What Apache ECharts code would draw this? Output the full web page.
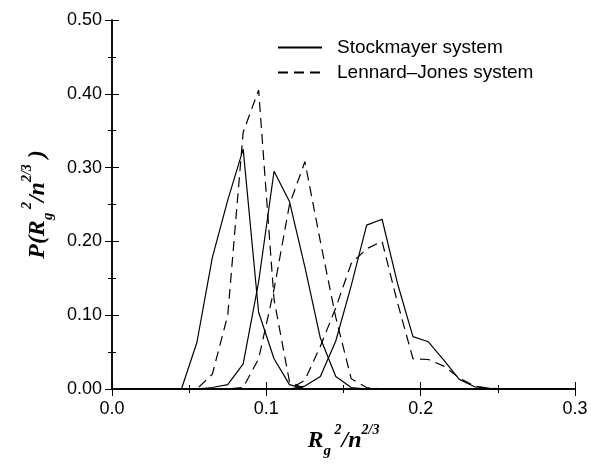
<!DOCTYPE html>
<html>
<head>
<meta charset="utf-8">
<script src="https://cdn.jsdelivr.net/npm/echarts@6/dist/echarts.min.js"></script>
<style>
html, body { margin: 0; padding: 0; background: #fff; }
#chart { width: 591px; height: 464px; }
</style>
</head>
<body>
<div id="chart"></div>
<script>
// histogram bin centres (Rg^2 / n^(2/3))
const bins = [0.005, 0.015, 0.025, 0.035, 0.045, 0.055, 0.065, 0.075, 0.085, 0.095,
  0.105, 0.115, 0.125, 0.135, 0.145, 0.155, 0.165, 0.175, 0.185, 0.195,
  0.205, 0.215, 0.225, 0.235, 0.245, 0.255, 0.265, 0.275, 0.285, 0.295]

// Stockmayer system, three chain lengths
const stock1 = [0, 0, 0, 0, 0, 0.063, 0.178, 0.256, 0.325, 0.104, 0.041, 0.006, 0, 0, 0,
  0, 0, 0, 0, 0, 0, 0, 0, 0, 0, 0, 0, 0, 0, 0]
const stock2 = [0, 0, 0, 0, 0, 0, 0.002, 0.006, 0.034, 0.145, 0.295, 0.254, 0.165, 0.069, 0.017,
  0.002, 0, 0, 0, 0, 0, 0, 0, 0, 0, 0, 0, 0, 0, 0]
const stock3 = [0, 0, 0, 0, 0, 0, 0, 0, 0, 0, 0, 0, 0.004, 0.017, 0.065,
  0.14, 0.222, 0.23, 0.143, 0.071, 0.064, 0.039, 0.013, 0.003, 0.001, 0, 0, 0, 0, 0]

// Lennard-Jones system
const lj1 = [0, 0, 0, 0, 0, 0, 0.02, 0.1, 0.348, 0.405, 0.121, 0.01, 0, 0, 0,
  0, 0, 0, 0, 0, 0, 0, 0, 0, 0, 0, 0, 0, 0, 0]
const lj2 = [0, 0, 0, 0, 0, 0, 0, 0, 0.002, 0.041, 0.135, 0.25, 0.308, 0.2, 0.097,
  0.014, 0.002, 0, 0, 0, 0, 0, 0, 0, 0, 0, 0, 0, 0, 0]
const lj3 = [0, 0, 0, 0, 0, 0, 0, 0, 0, 0, 0, 0, 0.012, 0.058, 0.11,
  0.17, 0.19, 0.2, 0.117, 0.041, 0.04, 0.031, 0.015, 0.004, 0.001, 0, 0, 0, 0, 0]

const STOCK = "Stockmayer system"
const LJ = "Lennard–Jones system"

const serif = "Liberation Serif"
const sans = "Liberation Sans"

let nameRich = {
  i: { fontFamily: serif, fontStyle: "italic", fontWeight: "bold", fontSize: 24, lineHeight: 36, color: "#000" },
  sub: { fontFamily: serif, fontStyle: "italic", fontWeight: "bold", fontSize: 15, lineHeight: 16, verticalAlign: "bottom", color: "#000" },
  sup: { fontFamily: serif, fontStyle: "italic", fontWeight: "bold", fontSize: 14, lineHeight: 16, verticalAlign: "top", color: "#000" },
}

function pairs(ys) {
  return bins.map((x, i) => [x, ys[i]])
}

function curve(name, ys, dashed) {
  return {
    name: name,
    type: "line",
    data: pairs(ys),
    symbol: "none",
    lineStyle: {
      color: "#000",
      width: 1.2,
      type: dashed ? [10, 6] : "solid",
    },
    itemStyle: { color: "#000" },
    emphasis: { disabled: true },
  }
}

let axisLine = { show: true, lineStyle: { color: "#000", width: 1.5 } }
let tick = { show: true, inside: true, length: 7, lineStyle: { color: "#000", width: 1 } }
let minor = { show: true, splitNumber: 2, length: 4, lineStyle: { color: "#000", width: 1 } }

let myChart = echarts.init(document.getElementById("chart"))
myChart.setOption({
  animation: false,
  backgroundColor: "#fff",
  grid: { left: 112, right: 16, top: 20, bottom: 61 },
  legend: {
    orient: "vertical",
    left: 272,
    top: 33,
    itemWidth: 44,
    itemHeight: 14,
    itemGap: 6,
    data: [STOCK, LJ],
    itemStyle: { opacity: 0 },
    textStyle: { fontFamily: sans, fontSize: 19, color: "#000", padding: [0, 0, 0, 10] },
  },
  xAxis: [
    {
      type: "value",
      min: 0,
      max: 0.3,
      interval: 0.1,
      position: "bottom",
      axisLine: axisLine,
      axisTick: tick,
      minorTick: minor,
      splitLine: { show: false },
      axisLabel: {
        formatter: (v) => v.toFixed(1),
        fontFamily: sans,
        fontSize: 18,
        color: "#000",
        margin: 11,
      },
      name: "{i|R}{sub|g}{sup| 2}{i|/n}{sup|2/3}",
      nameLocation: "middle",
      nameGap: 34,
      nameTextStyle: { rich: nameRich },
    },
    {
      type: "value",
      min: 0,
      max: 0.3,
      interval: 0.1,
      position: "top",
      axisLine: axisLine,
      axisTick: tick,
      minorTick: minor,
      splitLine: { show: false },
      axisLabel: { show: false },
    },
  ],
  yAxis: [
    {
      type: "value",
      min: 0,
      max: 0.5,
      interval: 0.1,
      position: "left",
      axisLine: axisLine,
      axisTick: tick,
      minorTick: minor,
      splitLine: { show: false },
      axisLabel: {
        formatter: (v) => v.toFixed(2),
        fontFamily: sans,
        fontSize: 18,
        color: "#000",
        margin: 10,
      },
      name: "{i|P(R}{sub|g}{sup| 2}{i|/n}{sup|2/3}{i| )}",
      nameLocation: "middle",
      nameGap: 56,
      nameRotate: 90,
      nameTextStyle: { rich: nameRich },
    },
    {
      type: "value",
      min: 0,
      max: 0.5,
      interval: 0.1,
      position: "right",
      axisLine: axisLine,
      axisTick: tick,
      minorTick: minor,
      splitLine: { show: false },
      axisLabel: { show: false },
    },
  ],
  series: [
    curve(STOCK, stock1, false),
    curve(STOCK, stock2, false),
    curve(STOCK, stock3, false),
    curve(LJ, lj1, true),
    curve(LJ, lj2, true),
    curve(LJ, lj3, true),
  ],
})
</script>
</body>
</html>
